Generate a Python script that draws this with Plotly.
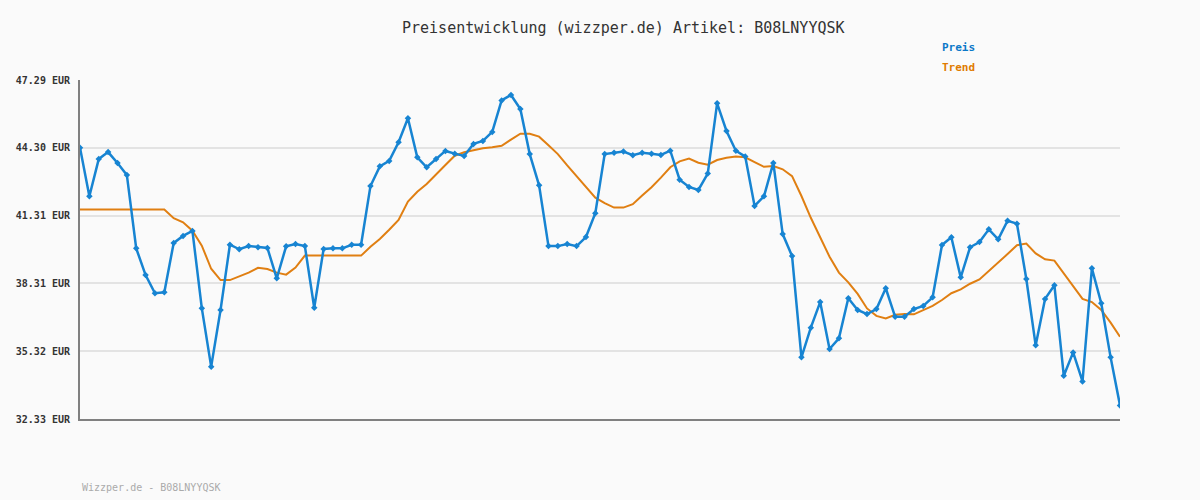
import plotly.graph_objects as go

preis = [44.30, 42.16, 43.80, 44.11, 43.63, 43.10, 39.86, 38.68, 37.88, 37.92,
         40.10, 40.41, 40.63, 37.22, 34.64, 37.14, 40.02, 39.82, 39.96, 39.91,
         39.88, 38.54, 39.95, 40.05, 39.96, 37.24, 39.83, 39.86, 39.86, 40.02,
         40.02, 42.61, 43.48, 43.72, 44.54, 45.60, 43.88, 43.44, 43.80, 44.16,
         44.04, 43.94, 44.47, 44.60, 45.00, 46.39, 46.63, 46.01, 44.02, 42.64,
         39.96, 39.96, 40.05, 39.96, 40.36, 41.41, 44.02, 44.08, 44.13, 43.97,
         44.08, 44.04, 43.98, 44.17, 42.89, 42.57, 42.44, 43.16, 46.26, 45.04,
         44.17, 43.91, 41.73, 42.16, 43.63, 40.49, 39.52, 35.05, 36.36, 37.49,
         35.42, 35.89, 37.66, 37.14, 36.96, 37.18, 38.10, 36.84, 36.84, 37.18,
         37.32, 37.70, 40.01, 40.35, 38.58, 39.91, 40.14, 40.70, 40.26, 41.08,
         40.95, 38.51, 35.58, 37.63, 38.23, 34.24, 35.27, 33.99, 38.98, 37.44,
         35.05, 32.93]

trend = [41.57, 41.57, 41.57, 41.57, 41.57, 41.57, 41.57, 41.57, 41.57, 41.57,
         41.19, 41.01, 40.64, 39.98, 38.96, 38.46, 38.46, 38.63, 38.79, 39.00,
         38.95, 38.79, 38.70, 39.01, 39.54, 39.54, 39.54, 39.54, 39.54, 39.54,
         39.54, 39.93, 40.27, 40.68, 41.11, 41.93, 42.36, 42.70, 43.10, 43.54,
         43.95, 44.10, 44.19, 44.28, 44.32, 44.39, 44.66, 44.92, 44.92, 44.79,
         44.41, 44.02, 43.52, 43.04, 42.60, 42.10, 41.86, 41.66, 41.66, 41.81,
         42.19, 42.56, 42.98, 43.44, 43.70, 43.82, 43.64, 43.55, 43.76, 43.86,
         43.91, 43.88, 43.67, 43.46, 43.49, 43.35, 43.05, 42.17, 41.21, 40.38,
         39.49, 38.79, 38.36, 37.85, 37.21, 36.88, 36.77, 36.93, 36.96, 36.95,
         37.14, 37.32, 37.58, 37.88, 38.05, 38.30, 38.49, 38.85, 39.23, 39.61,
         40.00, 40.07, 39.64, 39.38, 39.32, 38.76, 38.20, 37.63, 37.49, 37.14,
         36.58, 35.96]

tick_vals = [32.33, 35.32, 38.31, 41.31, 44.30, 47.29]
tick_text = ["32.33 EUR", "35.32 EUR", "38.31 EUR", "41.31 EUR", "44.30 EUR", "47.29 EUR"]

x = list(range(len(preis)))

MONO = "DejaVu Sans Mono"
BLUE = "#1784d2"
ORANGE = "#e07f12"

fig = go.Figure()
fig.add_trace(go.Scatter(
    x=x, y=trend, mode="lines", name="Trend",
    line=dict(color=ORANGE, width=2), hoverinfo="skip"))
fig.add_trace(go.Scatter(
    x=x, y=preis, mode="lines+markers", name="Preis",
    line=dict(color=BLUE, width=2.5),
    marker=dict(symbol="diamond", size=5, color=BLUE)))

fig.update_layout(
    width=1200, height=500,
    margin=dict(l=80, r=80, t=80, b=81),
    paper_bgcolor="#fafafa", plot_bgcolor="#fafafa",
    showlegend=False,
    font=dict(family=MONO, color="#333333"),
)
fig.update_xaxes(range=[0, len(preis) - 1], showgrid=False, zeroline=False,
                 showticklabels=False, showline=True, linecolor="#808080",
                 linewidth=2)
fig.update_yaxes(range=[32.33, 47.29], tickvals=tick_vals, ticktext=tick_text,
                 showgrid=True, gridcolor="#e3e3e3", gridwidth=2,
                 zeroline=False, showline=True, linecolor="#808080",
                 linewidth=2, ticks="", ticklabelstandoff=6,
                 tickfont=dict(family=MONO, size=10, color="#333333", weight="bold"))

fig.add_annotation(text="Preisentwicklung (wizzper.de) Artikel: B08LNYYQSK",
                   xref="paper", yref="paper", x=(623 - 80) / 1040, y=1 + (80 - 28) / 339,
                   showarrow=False, xanchor="center", yanchor="middle",
                   font=dict(family=MONO, size=15, color="#333333"))
fig.add_annotation(text="<b>Preis</b>", xref="paper", yref="paper",
                   x=(940 - 80) / 1040, y=1 + (80 - 47) / 339,
                   showarrow=False, xanchor="left", yanchor="middle",
                   font=dict(family=MONO, size=11, color="#0a78c8"))
fig.add_annotation(text="<b>Trend</b>", xref="paper", yref="paper",
                   x=(940 - 80) / 1040, y=1 + (80 - 67) / 339,
                   showarrow=False, xanchor="left", yanchor="middle",
                   font=dict(family=MONO, size=11, color="#e07b00"))
fig.add_annotation(text="Wizzper.de - B08LNYYQSK", xref="paper", yref="paper",
                   x=0, y=-(487 - 419) / 339,
                   showarrow=False, xanchor="left", yanchor="middle",
                   font=dict(family=MONO, size=10, color="#aaaaaa"))

fig.write_html("out.html", config={"displayModeBar": False},
               post_script="document.body.style.margin='0';document.body.style.background='#fafafa';")
